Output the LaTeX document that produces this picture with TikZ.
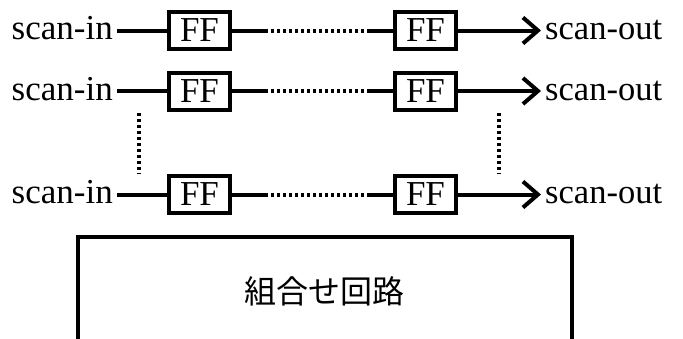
\documentclass[tikz,border=0pt]{standalone}
\usepackage{fontspec}
\setmainfont{Liberation Serif}
\newfontfamily\jpfont{Noto Sans CJK JP}
\usetikzlibrary{arrows.meta}
\begin{document}
\begin{tikzpicture}[x=1pt,y=-1pt,
 ff/.style={draw, line width=4pt, minimum width=61pt, minimum height=37pt, inner sep=0pt, font=\fontsize{35}{35}\selectfont},
 inlbl/.style={inner sep=0pt, inner xsep=4pt, anchor=base east, font=\fontsize{35}{35}\selectfont},
 outlbl/.style={inner sep=0pt, inner xsep=4pt, anchor=base west, font=\fontsize{34.5}{34.5}\selectfont},
 wire/.style={line width=4pt},
 dots/.style={line width=4pt, dash pattern=on 3pt off 3pt},
 arr/.style={line width=4pt, -{Straight Barb[length=15pt,width=26pt,line width=4pt]}},
 comb/.style={draw, line width=4pt, minimum width=494pt, minimum height=108pt, inner sep=0pt, font=\jpfont\fontsize{32}{32}\selectfont}
]
\useasboundingbox (0,0) rectangle (683,338);
% row 1
\node[ff] (f11) at (199.5,30.5) {FF};
\node[ff] (f12) at (425.5,30.5) {FF};
\node[inlbl] (in1) at (117,39.5) {scan-in};
\node[outlbl] (out1) at (541,39.5) {scan-out};
% row 2
\node[ff] (f21) at (199.5,91) {FF};
\node[ff] (f22) at (425.5,91) {FF};
\node[inlbl] (in2) at (117,100) {scan-in};
\node[outlbl] (out2) at (541,100) {scan-out};
% row 3
\node[ff] (f31) at (199.5,194.5) {FF};
\node[ff] (f32) at (425.5,194.5) {FF};
\node[inlbl] (in3) at (117,203.5) {scan-in};
\node[outlbl] (out3) at (541,203.5) {scan-out};
% wires
\foreach \r in {1,2,3}{
  \draw[wire] (in\r.east |- f\r1.west) -- (f\r1.west);
  \draw[wire] (f\r1.east) -- ++(33,0) coordinate (da\r);
  \draw[dots] (da\r) -- ++(103,0) coordinate (db\r);
  \draw[wire] (db\r) -- (f\r2.west);
  \draw[arr] (f\r2.east) -- (out\r.west |- f\r2.east);
}
% vertical ellipsis
\coordinate (vl1) at (139,113);
\coordinate (vl2) at (139,174);
\coordinate (vr1) at (499,113);
\coordinate (vr2) at (499,174);
\draw[dots] (vl1) -- (vl2);
\draw[dots] (vr1) -- (vr2);
% combinational circuit
\node[comb] (cc) at (324.5,291) {組合せ回路};
\end{tikzpicture}
\end{document}
